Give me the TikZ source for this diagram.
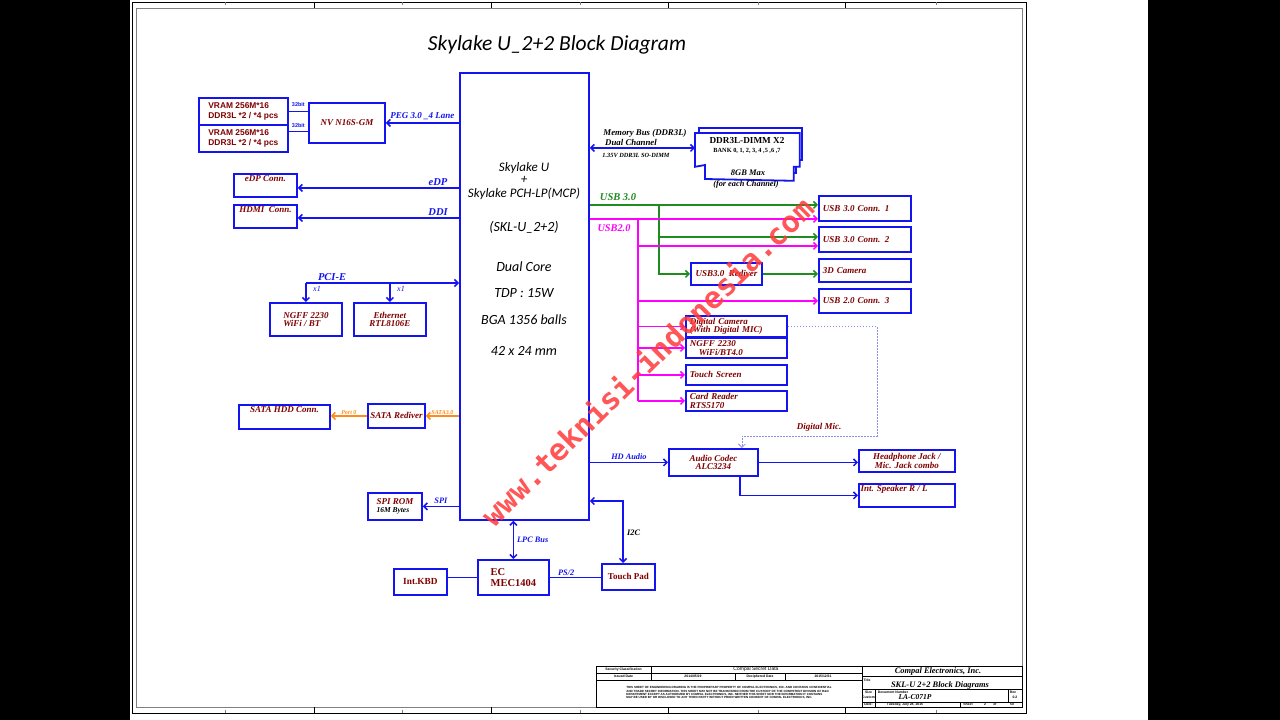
\documentclass[tikz,border=0pt]{standalone}
\usepackage{fontspec}
\setmainfont{Liberation Serif}
\newfontfamily\calibrifont{Carlito}
\newfontfamily\arialfont{Liberation Sans}
\newfontfamily\wmfont{DejaVu Sans Mono}
\usetikzlibrary{arrows.meta, positioning, calc}
\definecolor{boxblue}{HTML}{1414F0}
\definecolor{txtred}{HTML}{800000}
\definecolor{usbgreen}{HTML}{1E8C1E}
\definecolor{usbpink}{HTML}{FF00FF}
\definecolor{sataorg}{HTML}{FF8C1A}
\definecolor{micblue}{HTML}{8C8CF0}
\definecolor{wmred}{HTML}{FF3A3A}
\definecolor{framegray}{HTML}{808080}

\newcommand{\fsz}[2]{\fontsize{#1}{#2}\selectfont}

\tikzset{
  blk/.style={draw=boxblue, line width=1.8pt, fill=white, anchor=north west,
    inner sep=1pt, align=center, text=txtred,
    font=\bfseries\itshape\fsz{9}{8.6}},
  sz/.style 2 args={minimum width=#1, minimum height=#2},
  boxlbl/.style={anchor=north, inner sep=2.5pt, text=txtred,
    font=\bfseries\itshape\fsz{9}{8.6}},
  bus/.style={boxblue, line width=1.5pt},
  usbg/.style={usbgreen, line width=1.5pt},
  usbp/.style={usbpink, line width=1.5pt},
  satal/.style={sataorg, line width=1.5pt},
  micline/.style={micblue, line width=0.8pt, dash pattern=on 1.5pt off 1.5pt},
  tag/.style={font=\bfseries\itshape\fsz{8.3}{9}, inner sep=0pt},
  btag/.style={font=\bfseries\itshape\fsz{10.5}{12}, text=boxblue, inner sep=0pt},
  stag/.style={font=\bfseries\itshape\fsz{6}{6.5}, text=sataorg, inner sep=0pt},
  tb/.style={font=\arialfont\bfseries\fsz{3.4}{4}, inner sep=0pt},
}

\begin{document}
\begin{tikzpicture}[x=1pt, y=-1pt, >={Straight Barb[length=3.5pt,width=7pt]}]

% page
\fill[black] (0,0) rectangle (1280,720);
\fill[white] (130,0) rectangle (1148,720);
\useasboundingbox (0,0) rectangle (1280,720);

% sheet frame
\draw[line width=0.8pt] (132,2) rectangle (1026,713);
\draw[framegray, line width=0.8pt] (136,8) rectangle (1022,707);
\foreach \x in {314,491,668,845} {
  \draw[line width=0.6pt] (\x,2) -- (\x,8);
  \draw[line width=0.6pt] (\x,707) -- (\x,713);
}
\foreach \x in {225,402,580,758,936} {
  \draw[framegray, line width=0.5pt] (\x,2) -- (\x,5);
  \draw[framegray, line width=0.5pt] (\x,710) -- (\x,713);
}

% title
\node[font=\calibrifont\itshape\fsz{21.5}{24}] (title) at (557,45) {Skylake U\_2+2 Block Diagram};

% ---------------- CPU
\node[blk, sz={129}{447}] (cpu) at (459,72) {};
\foreach \y/\s/\t [count=\i] in {168/13/Skylake U, 180/13/+, 194/13/Skylake PCH-LP(MCP),
    227/14/(SKL-U\_2+2), 267/14/Dual Core, 293/14/TDP : 15W,
    320/14/BGA 1356 balls, 351/14/42 x 24 mm}
  \node[font=\calibrifont\itshape\fsz{\s}{\s}, inner sep=0pt] (cpul\i) at (524,\y) {\t};

% ---------------- graphics
\node[blk, sz={89}{27}, align=left, font=\arialfont\bfseries\fsz{8.4}{9.5}] (vram1) at (198,97) {VRAM 256M*16\\DDR3L *2 / *4 pcs};
\node[blk, sz={89}{27}, align=left, font=\arialfont\bfseries\fsz{8.4}{9.5}] (vram2) at (198,124) {VRAM 256M*16\\DDR3L *2 / *4 pcs};
\node[blk, sz={76}{40}] (nv) at (308,102) {NV N16S-GM};

\draw[bus, line width=1pt] (vram1.east) -- (vram1.east -| nv.west)
  node[midway, above=1pt, font=\arialfont\bfseries\fsz{5.5}{6}] (bit1) {32bit};
\coordinate (v2o) at ([yshift=6.5pt]vram2.east);
\draw[bus, line width=1pt] (v2o) -- (v2o -| nv.west)
  node[midway, above=1pt, font=\arialfont\bfseries\fsz{5.5}{6}] (bit2) {32bit};
\draw[bus, <-] (nv.east) -- (nv.east -| cpu.west)
  node[midway, above=2pt, tag, font=\bfseries\itshape\fsz{9}{10}] (pegl) {PEG 3.0 \_4 Lane};

% ---------------- display
\node[blk, sz={63}{23}, label={[boxlbl, name=edpl]north:{eDP Conn.}}] (edpc) at (233,173) {};
\node[blk, sz={63}{23}, label={[boxlbl, name=hdmil]north:{HDMI\ \ Conn.}}] (hdmic) at (233,204) {};
\coordinate (edpo) at ([yshift=-2.5pt]edpc.east);
\coordinate (hdmio) at ([yshift=-1.5pt]hdmic.east);
\draw[bus, <-] (edpo) -- (edpo -| cpu.west) node[pos=0.87, above=2pt, btag] (edpt) {eDP};
\draw[bus, <-] (hdmio) -- (hdmio -| cpu.west) node[pos=0.87, above=2pt, btag] (ddit) {DDI};

% ---------------- PCI-E
\node[blk, sz={72}{33}, align=left] (ngffw) at (269,302) {NGFF 2230\\WiFi / BT};
\node[blk, sz={72}{33}] (eth) at (353,302) {Ethernet\\RTL8106E};
\coordinate (pcij) at (ngffw.north |- 0,283);
\draw[bus, ->] (pcij) -- (pcij -| cpu.west);
\draw[bus, ->] (pcij) -- (ngffw.north);
\draw[bus, ->] (pcij -| eth.north) -- (eth.north);
\node[btag] (pcit) at (332,277) {PCI-E};
\node[font=\itshape\fsz{8}{9}, text=boxblue, inner sep=0pt] (x1a) at (317,289) {x1};
\node[font=\itshape\fsz{8}{9}, text=boxblue, inner sep=0pt] (x1b) at (401,289) {x1};

% ---------------- SATA
\node[blk, sz={91}{24}, label={[boxlbl, name=hddl]north:{SATA HDD Conn.}}] (hdd) at (238,404) {};
\node[blk, sz={57}{24}] (sred) at (367,403) {SATA Rediver};
\draw[satal, <-] (sred.east) -- (sred.east -| cpu.west) node[midway, above=1pt, stag] (s30) {SATA3.0};
\draw[satal, <-] (hdd.east |- sred.west) -- (sred.west) node[midway, above=1pt, stag] (p0) {Port 0};

% ---------------- SPI
\node[blk, sz={54}{27}, align=left] (spirom) at (367,492)
  {SPI ROM\\\textcolor{black}{\fsz{7.5}{9}16M Bytes}};
\draw[bus, <-] (spirom.east) -- (spirom.east -| cpu.west) node[midway, above=2pt, tag] (spit) {SPI};

% ---------------- EC
\node[blk, sz={71}{35}, align=left, font=\bfseries\fsz{10.5}{11.5}] (ec) at (477,559) {EC\\MEC1404};
\node[blk, sz={53}{26}, font=\bfseries\fsz{9.3}{10}] (kbd) at (393,568) {Int.KBD};
\node[blk, sz={53}{26}, font=\bfseries\fsz{9}{10}] (tpad) at (601,563) {Touch Pad};
\draw[bus, <->] (ec.north) -- (ec.north |- cpu.south) node[midway, right=3pt, tag] (lpct) {LPC Bus};
\draw[bus] (kbd.east |- ec.west) -- (ec.west);
\draw[bus] (ec.east) -- (ec.east -| tpad.west) node[pos=0.32, above=1pt, tag] (ps2t) {PS/2};
\coordinate (i2cc) at (623,501);
\draw[bus, <->] (i2cc -| cpu.east) -- (i2cc) -- (i2cc |- tpad.north);
\node[tag, right=4pt] (i2ct) at (i2cc |- 0,533) {I2C};

% ---------------- memory
\draw[bus, line width=1.8pt, fill=white] (699,128) -- (802,128) -- (802,160) -- (796,160) -- (796,173)
  -- (709,173) -- (709,160) -- (699,160) -- cycle;
\node[blk, sz={103}{32}, draw=none, fill=none] (dimm) at (695,133) {};
\draw[bus, line width=1.8pt, fill=white] (dimm.north west) -- (dimm.north east) -- (dimm.south east)
  -- ++(-6,0) -- ++(0,14) -- (705,179) -- (705,165) -- (dimm.south west) -- cycle;
\node[font=\bfseries\fsz{9.2}{10}, inner sep=0pt] (dimmt) at (747,140) {DDR3L-DIMM X2};
\node[font=\bfseries\fsz{6.3}{7}, inner sep=0pt] (bank) at (747,151) {BANK 0, 1, 2, 3, 4 ,5 ,6 ,7};
\node[tag, font=\bfseries\itshape\fsz{8.5}{9}] (gb8) at (748,173) {8GB Max};
\node[tag] (fech) at (746,184) {(for each Channel)};
\coordinate (mbo) at ([yshift=2pt]dimm.west);
\draw[bus, <->] (mbo -| cpu.east) -- (mbo);
\node[tag, font=\bfseries\itshape\fsz{8.8}{9}] (mbt) at (645,133) {Memory Bus (DDR3L)};
\node[tag, font=\bfseries\itshape\fsz{8.8}{9}] (dct) at (631,142) {Dual Channel};
\node[tag, font=\bfseries\itshape\fsz{6.3}{7}] (sodt) at (636,155) {1.35V DDR3L SO-DIMM};

% ---------------- USB
\node[blk, sz={92}{25}, align=left, text width=84pt, inner xsep=4pt] (usb1) at (818,195) {USB 3.0 Conn. 1};
\node[blk, sz={92}{25}, align=left, text width=84pt, inner xsep=4pt] (usb2) at (818,226) {USB 3.0 Conn. 2};
\node[blk, sz={92}{23}, align=left, text width=84pt, inner xsep=4pt] (cam3d) at (818,258) {3D Camera};
\node[blk, sz={92}{24}, align=left, text width=84pt, inner xsep=4pt] (usb3c) at (818,288) {USB 2.0 Conn. 3};
\node[blk, sz={71}{22}] (rdv) at (690,262) {USB3.0\ \ Rediver};

\coordinate (u3a) at ([yshift=3.5pt]usb1.west);
\coordinate (u2a) at ([yshift=-10.5pt]usb1.west);
\coordinate (u3b) at ([yshift=2.5pt]usb2.west);
\coordinate (u2b) at ([yshift=-6.5pt]usb2.west);
\coordinate (gj) at (659,204);
\coordinate (mj) at (638,218);

\draw[usbg, ->] (u3a -| cpu.east) -- (u3a);
\draw[usbg, ->] (gj) -- (gj |- u3b) -- (u3b);
\draw[usbg, ->] (gj |- u3b) -- (gj |- rdv.west) -- (rdv.west);
\draw[usbg, ->] (rdv.east) -- (rdv.east -| cam3d.west);
\node[tag, font=\bfseries\itshape\fsz{10.5}{11}, text=usbgreen] (u3t) at (618,197) {USB 3.0};

\node[blk, sz={101}{21}, align=left, text width=93pt, inner xsep=4pt] (dcam) at (685,315) {Digital Camera\\(With Digital MIC)};
\node[blk, sz={101}{20}, align=left, text width=93pt, inner xsep=4pt] (ngff2) at (685,337) {NGFF 2230\\\hspace*{9pt}WiFi/BT4.0};
\node[blk, sz={101}{20}, align=left, text width=93pt, inner xsep=4pt] (tscr) at (685,364) {Touch Screen};
\node[blk, sz={101}{20}, align=left, text width=93pt, inner xsep=4pt] (crdr) at (685,390) {Card Reader\\RTS5170};

\draw[usbp, ->] (u2a -| cpu.east) -- (u2a);
\draw[usbp] (mj) -- (mj |- crdr.west);
\draw[usbp, ->] (mj |- u2b) -- (u2b);
\draw[usbp, ->] (mj |- usb3c.west) -- (usb3c.west);
\foreach \b in {dcam, ngff2, tscr, crdr}
  \draw[usbp, ->] (mj |- \b.west) -- (\b.west);
\node[tag, font=\bfseries\itshape\fsz{10.3}{11}, text=usbpink] (u2t) at (614,228) {USB2.0};

% ---------------- audio
\node[blk, sz={89}{27}] (codec) at (668,448) {Audio Codec\\ALC3234};
\node[blk, sz={96}{22}] (hpj) at (858,449) {Headphone Jack /\\Mic. Jack combo};
\node[blk, sz={96}{23}, label={[boxlbl, anchor=north west, name=spkl]north west:{Int. Speaker R / L}}] (spk) at (858,483) {};
\draw[bus, ->] (codec.west -| cpu.east) -- (codec.west) node[midway, above=2pt, tag] (hdat) {HD Audio};
\draw[bus, ->] (codec.east) -- (codec.east -| hpj.west);
\draw[bus, ->] ([xshift=26.5pt]codec.south) |- (spk.west);
\coordinate (dmic) at (877,436);
\draw[micline, ->] (dcam.east) -| (dmic) -| ([xshift=28.5pt]codec.north);
\node[tag, font=\bfseries\itshape\fsz{9}{10}, text=txtred] (dmict) at (819,427) {Digital Mic.};

% ---------------- title block
\draw[line width=0.7pt] (596,666) rectangle (1022,707);
\draw[line width=0.5pt] (862,666) -- (862,707)
  (596,673) -- (862,673) (596,680) -- (862,680)
  (651,666) -- (651,680) (735,673) -- (735,680) (785,673) -- (785,680)
  (862,676) -- (1022,676) (862,689) -- (1022,689) (862,702) -- (1022,702)
  (875,689) -- (875,707) (1008,689) -- (1008,702) (960,702) -- (960,707);
\node[tb] (sec) at (623.5,669.5) {Security Classification};
\node[tb, font=\arialfont\fsz{5}{6}] (csd) at (756,669.5) {Compal Secret Data};
\node[tb] (isd) at (623.5,676.5) {Issued Date};
\node[tb] (isdv) at (693,676) {2014/05/19};
\node[tb] (dcd) at (760,676.5) {Deciphered Date};
\node[tb] (dcdv) at (823,676) {2015/12/31};
\node[tb, font=\arialfont\bfseries\fsz{3}{3.4}, align=left] (disc) at (729,693)
  {THIS SHEET OF ENGINEERING DRAWING IS THE PROPRIETARY PROPERTY OF COMPAL ELECTRONICS, INC. AND CONTAINS CONFIDENTIAL\\
   AND TRADE SECRET INFORMATION. THIS SHEET MAY NOT BE TRANSFERED FROM THE CUSTODY OF THE COMPETENT DIVISION OF R\&D\\
   DEPARTMENT EXCEPT AS AUTHORIZED BY COMPAL ELECTRONICS, INC. NEITHER THIS SHEET NOR THE INFORMATION IT CONTAINS\\
   MAY BE USED BY OR DISCLOSED TO ANY THIRD PARTY WITHOUT PRIOR WRITTEN CONSENT OF COMPAL ELECTRONICS, INC.};
\node[font=\bfseries\itshape\fsz{8.4}{9}, inner sep=0pt] (cmp) at (938,671) {Compal Electronics, Inc.};
\node[tb] (ttl) at (867,680) {Title};
\node[font=\bfseries\itshape\fsz{8.4}{9}, inner sep=0pt] (ttlv) at (940,685) {SKL-U 2+2 Block Diagrams};
\node[tb] (sizel) at (868.5,692) {Size};
\node[tb] (sizev) at (868.5,697) {Custom};
\node[tb] (docn) at (893,692) {Document Number};
\node[font=\bfseries\itshape\fsz{7.5}{8}, inner sep=0pt] (docv) at (915,697.5) {LA-C071P};
\node[tb] (revl) at (1013,692) {Rev};
\node[tb] (revv) at (1015,697) {0.2};
\node[tb] (datel) at (868.5,704.5) {Date:};
\node[tb] (datev) at (905,704.5) {Tuesday, July 28, 2015};
\node[tb] (shl) at (968,704.5) {Sheet};
\node[tb] (shv) at (985,704.5) {2};
\node[tb] (ofl) at (995,704.5) {of};
\node[tb] (ofv) at (1012,704.5) {50};

% watermark
\node[font=\wmfont\bfseries\fsz{30}{30}, text=wmred, opacity=0.85, rotate=44.6, inner sep=0pt] (wm) at (647,361) {www.teknisi-indonesia.com};

\end{tikzpicture}
\end{document}
